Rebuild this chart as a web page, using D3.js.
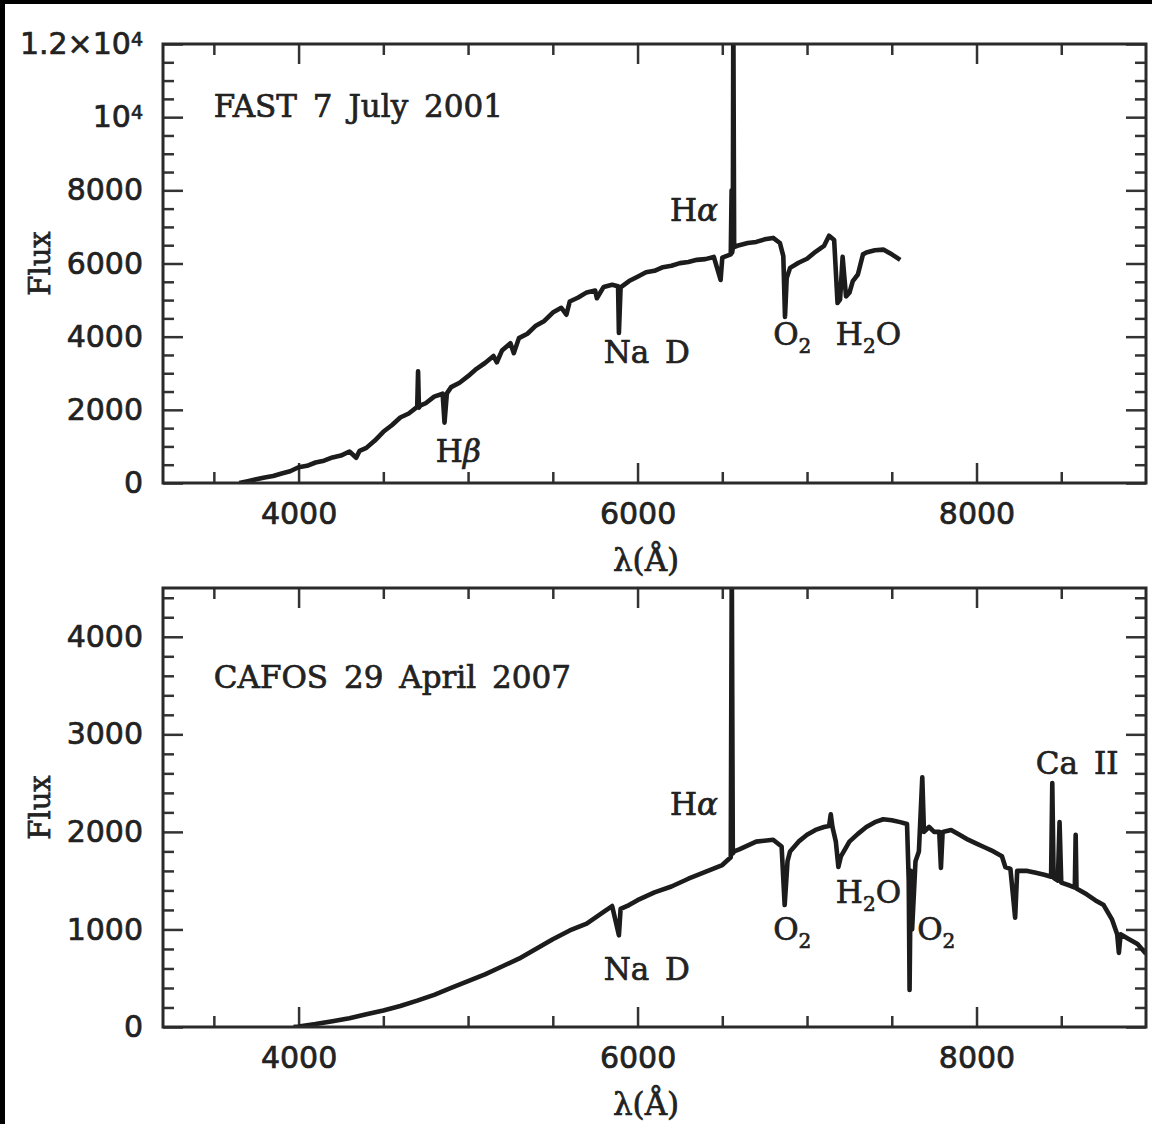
<!DOCTYPE html>
<html>
<head>
<meta charset="utf-8">
<script src="https://cdn.jsdelivr.net/npm/d3@7"></script>
<style>
  html, body { margin: 0; padding: 0; background: #fff; }
  svg { display: block; }
  .tick text { font-family: "DejaVu Sans", sans-serif; font-size: 30px; fill: #222; stroke: #222; stroke-width: 0.7; }
  .tick line { stroke: #333; stroke-width: 2.5; }
  .lbl { font-family: "DejaVu Serif", serif; font-size: 31px; fill: #222; stroke: #222; stroke-width: 0.7; }
</style>
</head>
<body>
<div id="chart"></div>
<script>
// FAST spectrum, 7 July 2001 (wavelength in Angstrom, flux)
const fastLambda = [3650, 3700, 3750, 3800, 3850, 3900, 3950, 4000, 4050, 4100, 4150, 4200, 4250, 4300, 4340, 4360,
  4400, 4450, 4500, 4550, 4600, 4650, 4700, 4705, 4710, 4720, 4750, 4800, 4850, 4861, 4875, 4900, 4950, 5000, 5050,
  5100, 5150, 5170, 5200, 5250, 5270, 5300, 5350, 5400, 5450, 5500, 5550, 5580, 5600, 5650, 5700, 5750, 5760, 5800,
  5850, 5885, 5890, 5900, 5950, 6000, 6050, 6100, 6150, 6200, 6250, 6300, 6350, 6400, 6450, 6490, 6500, 6550, 6555,
  6558, 6562, 6565, 6570, 6600, 6650, 6700, 6750, 6800, 6840, 6860, 6870, 6880, 6900, 6950, 7000, 7050, 7100, 7130,
  7160, 7180, 7195, 7210, 7230, 7250, 7270, 7300, 7330, 7350, 7400, 7450, 7500, 7550];
const fastFlux = [0, 50, 100, 150, 190, 260, 320, 430, 470, 560, 610, 700, 750, 860, 690, 880,
  960, 1160, 1400, 1580, 1790, 1900, 2080, 3050, 2060, 2120, 2180, 2360, 2440, 1650, 2450, 2620, 2740, 2920, 3120,
  3280, 3470, 3300, 3620, 3820, 3550, 3960, 4080, 4300, 4430, 4660, 4790, 4600, 4960, 5070, 5210, 5260, 5050, 5360,
  5420, 5380, 4100, 5350, 5520, 5640, 5760, 5800, 5900, 5940, 6010, 6040, 6100, 6120, 6180, 5550, 6160, 6250, 8000,
  6300, 6420, 13000, 6450, 6500, 6560, 6590, 6660, 6700, 6560, 6200, 4540, 5600, 5880, 6020, 6130, 6320, 6480, 6760,
  6640, 4920, 5020, 6180, 5100, 5200, 5520, 5700, 6250, 6300, 6360, 6380, 6250, 6100];

// CAFOS spectrum, 29 April 2007
const cafosLambda = [3970, 4000, 4100, 4200, 4300, 4400, 4500, 4600, 4700, 4800, 4900, 5000, 5100, 5200, 5300,
  5400, 5500, 5600, 5700, 5800, 5850, 5890, 5900, 5950, 6000, 6100, 6200, 6300, 6400, 6500, 6550, 6556, 6562, 6570,
  6600, 6700, 6800, 6850, 6868, 6885, 6900, 6950, 7000, 7050, 7100, 7130, 7140, 7150, 7170, 7185, 7200, 7250, 7300,
  7350, 7400, 7450, 7500, 7550, 7590, 7600, 7605, 7612, 7620, 7640, 7660, 7680, 7690, 7720, 7750, 7780, 7790, 7800,
  7850, 7900, 7950, 8000, 8050, 8100, 8150, 8170, 8200, 8228, 8240, 8300, 8350, 8400, 8440, 8447, 8455, 8480, 8490,
  8500, 8550, 8580, 8585, 8590, 8650, 8700, 8750, 8800, 8830, 8840, 8850, 8900, 8950, 9000];
const cafosFlux = [0, 5, 30, 60, 90, 130, 170, 215, 270, 330, 400, 470, 540, 620, 700,
  800, 900, 990, 1060, 1180, 1240, 940, 1210, 1250, 1300, 1380, 1440, 1520, 1590, 1660, 1740, 4800, 1780, 1800,
  1820, 1900, 1920, 1850, 1250, 1700, 1800, 1900, 1970, 2020, 2050, 2060, 2180, 2050, 1900, 1640, 1750, 1900, 1980,
  2050, 2100, 2130, 2120, 2100, 2080, 1500, 380, 1600, 1000, 1700, 1800, 2560, 2000, 2050, 2000, 2000, 1630, 2000,
  2020, 1970, 1920, 1880, 1840, 1800, 1750, 1640, 1620, 1120, 1600, 1600, 1580, 1560, 1540, 2500, 1530, 1500, 2100,
  1480, 1450, 1430, 1970, 1420, 1360, 1300, 1250, 1100, 950, 760, 950, 900, 850, 750];

// axis ticks
const xMajor = [4000, 6000, 8000];
const xMinor = [3500, 4500, 5000, 5500, 6500, 7000, 7500, 8500];
const fastYMajor = [0, 2000, 4000, 6000, 8000, 10000, 12000];
const cafosYMajor = [0, 1000, 2000, 3000, 4000];

// annotations: text, wavelength, flux, anchor
const fastNotes = [
  { t: 'FAST 7 July 2001', lam: 3500, f: 10000, a: 'start' },
  { t: 'Hα', lam: 6475, f: 7150, a: 'end' },
  { t: 'Na D', lam: 5800, f: 3280, a: 'start' },
  { t: 'Hβ', lam: 4810, f: 580, a: 'start' },
  { t: 'O|2', lam: 6800, f: 3770, a: 'start' },
  { t: 'H|2|O', lam: 7170, f: 3770, a: 'start' }
];
const cafosNotes = [
  { t: 'CAFOS 29 April 2007', lam: 3500, f: 3480, a: 'start' },
  { t: 'Hα', lam: 6475, f: 2170, a: 'end' },
  { t: 'Na D', lam: 5800, f: 480, a: 'start' },
  { t: 'O|2', lam: 6800, f: 890, a: 'start' },
  { t: 'H|2|O', lam: 7170, f: 1270, a: 'start' },
  { t: 'O|2', lam: 7650, f: 890, a: 'start' },
  { t: 'Ca II', lam: 8350, f: 2590, a: 'start' }
];

const W = 1152, H = 1124;
const left = 163, right = 1146;
const svg = d3.select('#chart').append('svg').attr('width', W).attr('height', H);

// dark frame left over from the scan
svg.append('rect').attr('x', 0).attr('y', 0).attr('width', W).attr('height', 4).attr('fill', '#000');
svg.append('rect').attr('x', 0).attr('y', 0).attr('width', 5).attr('height', H).attr('fill', '#000');

const x = d3.scaleLinear([3200, 9000], [left, right]);

function panel(id, top, bottom, yMax, yMajor, yMinorStep, lam, flux, notes, yFmt) {
  const y = d3.scaleLinear([0, yMax], [bottom, top]);
  const g = svg.append('g').attr('class', 'panel-' + id);
  const yMinor = d3.range(0, yMax + 1, yMinorStep).filter(v => !yMajor.includes(v));

  // clip so the emission spikes stop at the frame
  g.append('clipPath').attr('id', 'clip-' + id)
    .append('rect').attr('x', left).attr('y', top).attr('width', right - left).attr('height', bottom - top);

  const axes = [
    // bottom
    [d3.axisBottom(x).tickValues(xMajor).tickSize(-20).tickPadding(20).tickFormat(d3.format('d')), `translate(0,${bottom})`],
    [d3.axisBottom(x).tickValues(xMinor).tickSize(-11).tickFormat(''), `translate(0,${bottom})`],
    // top
    [d3.axisTop(x).tickValues(xMajor).tickSize(-20).tickFormat(''), `translate(0,${top})`],
    [d3.axisTop(x).tickValues(xMinor).tickSize(-11).tickFormat(''), `translate(0,${top})`],
    // left
    [d3.axisLeft(y).tickValues(yMajor).tickSize(-20).tickPadding(20).tickFormat(yFmt), `translate(${left},0)`],
    [d3.axisLeft(y).tickValues(yMinor).tickSize(-11).tickFormat(''), `translate(${left},0)`],
    // right
    [d3.axisRight(y).tickValues(yMajor).tickSize(-20).tickFormat(''), `translate(${right},0)`],
    [d3.axisRight(y).tickValues(yMinor).tickSize(-11).tickFormat(''), `translate(${right},0)`]
  ];
  axes.forEach(([ax, tr]) => {
    const a = g.append('g').attr('transform', tr).call(ax);
    a.select('.domain').remove();
  });

  // powers of ten on the flux axis
  g.selectAll('.tick text').each(function (d) {
    const t = d3.select(this);
    if (t.text() === '10^4' || t.text() === '1.2×10^4') {
      const base = t.text().replace('^4', '');
      t.text(null);
      t.append('tspan').text(base);
      t.append('tspan').text('4').attr('dy', '-0.45em').style('font-size', '19px');
    }
  });

  // spectrum
  const line = d3.line().x(d => x(d[0])).y(d => y(d[1]));
  g.append('path')
    .datum(d3.zip(lam, flux))
    .attr('clip-path', `url(#clip-${id})`)
    .attr('d', line)
    .attr('fill', 'none')
    .attr('stroke', '#1c1c1c')
    .attr('stroke-width', 4.6)
    .attr('stroke-linejoin', 'round');

  // frame
  g.append('rect').attr('x', left).attr('y', top)
    .attr('width', right - left).attr('height', bottom - top)
    .attr('fill', 'none').attr('stroke', '#2a2a2a').attr('stroke-width', 3);

  // line identifications
  notes.forEach(n => {
    const txt = g.append('text').attr('class', 'lbl')
      .attr('x', x(n.lam)).attr('y', y(n.f))
      .attr('text-anchor', n.a)
      .style('word-spacing', '6px');
    if (n.t.includes('|')) {
      const parts = n.t.split('|');
      txt.append('tspan').text(parts[0]);
      txt.append('tspan').text(parts[1]).attr('dy', '8').style('font-size', '20px');
      if (parts[2]) txt.append('tspan').text(parts[2]).attr('dy', '-8');
    } else if (n.t === 'Hα' || n.t === 'Hβ') {
      txt.append('tspan').text('H');
      txt.append('tspan').text(n.t[1]).style('font-style', 'italic');
    } else {
      txt.text(n.t);
    }
  });

  // axis titles
  g.append('text').attr('class', 'lbl')
    .attr('transform', `translate(50,${(top + bottom) / 2}) rotate(-90)`)
    .attr('text-anchor', 'middle')
    .style('font-size', '29px')
    .text('Flux');
  g.append('text').attr('class', 'lbl')
    .attr('x', x(6050)).attr('y', bottom + 88)
    .attr('text-anchor', 'middle')
    .text('λ(Å)');
}

const fastFmt = d => d === 10000 ? '10^4' : d === 12000 ? '1.2×10^4' : d3.format('d')(d);
panel('fast', 44, 483, 12000, fastYMajor, 500, fastLambda, fastFlux, fastNotes, fastFmt);
panel('cafos', 588, 1027, 4500, cafosYMajor, 200, cafosLambda, cafosFlux, cafosNotes, d3.format('d'));
</script>
</body>
</html>
